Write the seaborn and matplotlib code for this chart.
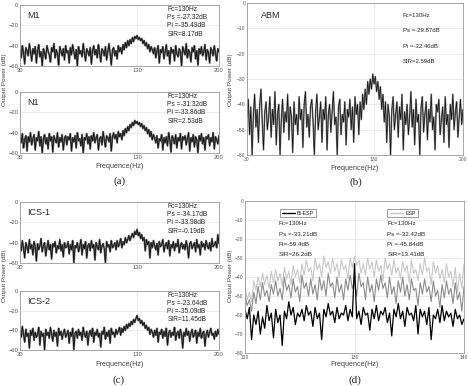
import numpy as np
import pandas as pd
import matplotlib
matplotlib.use('Agg')
import matplotlib.pyplot as plt
import seaborn as sns

sns.set_style('white')
plt.rcParams['font.family'] = ['Liberation Sans', 'DejaVu Sans']

# frequency axes (Hz)
freq_wide = np.arange(30, 201)          # panels a, b, c
freq_zoom = np.linspace(120, 140, 101)  # panel d

# spectra (dB)
m1 = [-44,-52,-40,-47,-58,-42,-45,-50,-38,-46,-55,-43,-48,-41,-57,-45,-39,-51,-46,-60,
      -43,-47,-53,-40,-45,-49,-56,-42,-46,-38,-52,-44,-48,-59,-41,-45,-50,-43,-54,-40,
      -47,-45,-57,-42,-49,-39,-46,-53,-44,-60,-41,-48,-45,-51,-38,-47,-55,-43,-46,-50,
      -42,-58,-45,-40,-49,-44,-52,-39,-47,-56,-43,-45,-50,-41,-54,-46,-38,-48,-59,-44,
      -42,-50,-45,-53,-40,-46,-42,-48,-39,-44,-37,-42,-35,-40,-34,-38,-32,-36,-31,-33,
      -30,-34,-32,-35,-33,-38,-35,-40,-37,-43,-39,-46,-41,-44,-48,-42,-52,-45,-40,-57,
      -44,-47,-41,-53,-46,-39,-50,-45,-58,-42,-47,-44,-55,-40,-48,-51,-43,-46,-60,-41,
      -45,-49,-38,-52,-44,-47,-56,-42,-46,-40,-53,-45,-59,-43,-48,-41,-50,-46,-39,-54,
      -44,-47,-57,-42,-45,-50,-40,-48,-55,-43,-46]
n1 = [-45,-50,-41,-55,-47,-43,-58,-44,-49,-40,-52,-46,-42,-57,-45,-48,-39,-53,-44,-60,
      -46,-42,-51,-45,-56,-41,-48,-44,-59,-43,-47,-50,-40,-54,-45,-49,-42,-57,-46,-43,
      -52,-44,-47,-41,-58,-45,-49,-43,-55,-40,-48,-46,-53,-42,-60,-45,-47,-41,-51,-44,
      -56,-43,-48,-40,-50,-45,-42,-57,-46,-44,-52,-39,-47,-54,-43,-45,-49,-41,-58,-44,
      -40,-46,-42,-50,-39,-44,-41,-47,-38,-43,-36,-40,-34,-38,-32,-35,-30,-33,-28,-31,
      -29,-32,-30,-34,-31,-36,-33,-38,-35,-41,-37,-44,-39,-47,-42,-45,-50,-43,-55,-46,
      -48,-42,-57,-45,-50,-44,-53,-40,-47,-59,-43,-46,-51,-42,-55,-45,-48,-41,-56,-44,
      -47,-43,-52,-46,-40,-58,-45,-49,-42,-54,-44,-47,-60,-43,-48,-41,-51,-45,-57,-44,
      -46,-42,-53,-45,-49,-40,-56,-44,-47,-51,-43]
abm = [-45,-38,-52,-41,-60,-44,-36,-49,-42,-55,-40,-34,-47,-58,-43,-39,-50,-45,-37,-53,
       -42,-48,-35,-56,-44,-40,-60,-46,-38,-51,-43,-47,-36,-54,-41,-45,-59,-39,-48,-44,
       -52,-37,-46,-42,-57,-40,-35,-49,-44,-53,-41,-38,-47,-60,-43,-36,-50,-45,-39,-55,
       -42,-46,-37,-58,-44,-40,-51,-43,-35,-48,-45,-60,-41,-38,-52,-44,-47,-39,-56,-42,
       -45,-38,-50,-41,-55,-37,-44,-40,-52,-39,-46,-36,-42,-34,-40,-31,-36,-30,-34,-28,
       -32,-29,-35,-31,-38,-33,-42,-36,-47,-39,-55,-40,-45,-60,-42,-37,-50,-44,-39,-53,
       -41,-46,-36,-58,-43,-48,-40,-52,-45,-35,-49,-42,-56,-38,-47,-44,-60,-41,-37,-51,
       -44,-39,-54,-42,-47,-36,-50,-45,-58,-40,-43,-38,-52,-46,-41,-55,-37,-48,-44,-57,
       -40,-46,-36,-50,-43,-39,-53,-45,-38,-48,-42]
ics1 = [-42,-48,-38,-45,-55,-40,-44,-50,-37,-46,-42,-52,-39,-44,-58,-41,-47,-43,-36,-49,
        -43,-40,-53,-45,-38,-47,-42,-56,-41,-44,-39,-50,-43,-46,-37,-48,-42,-54,-40,-45,
        -44,-39,-51,-42,-47,-38,-60,-43,-45,-40,-49,-44,-37,-52,-42,-46,-39,-55,-43,-41,
        -48,-38,-45,-42,-57,-40,-44,-47,-37,-50,-43,-41,-46,-60,-39,-44,-42,-49,-38,-45,
        -43,-40,-47,-38,-44,-41,-36,-45,-39,-42,-35,-40,-37,-33,-38,-34,-31,-35,-29,-32,
        -27,-33,-30,-36,-32,-38,-35,-48,-37,-42,-39,-55,-40,-45,-38,-43,-47,-41,-52,-39,
        -44,-42,-37,-49,-43,-40,-46,-38,-53,-42,-45,-39,-48,-41,-44,-37,-50,-43,-40,-46,
        -42,-47,-38,-44,-55,-41,-39,-46,-43,-40,-49,-37,-45,-42,-52,-39,-44,-41,-47,-38,
        -43,-46,-40,-48,-36,-44,-42,-39,-45,-32,-41]
ics2 = [-41,-47,-36,-44,-52,-39,-46,-43,-58,-40,-45,-38,-50,-42,-47,-44,-37,-55,-41,-46,
        -43,-60,-39,-45,-42,-48,-37,-44,-51,-40,-46,-42,-56,-38,-45,-41,-49,-43,-39,-47,
        -44,-40,-53,-42,-46,-38,-60,-43,-41,-48,-39,-45,-42,-50,-37,-44,-47,-41,-55,-43,
        -40,-46,-38,-52,-42,-45,-39,-47,-43,-57,-41,-44,-37,-49,-42,-46,-40,-53,-38,-44,
        -42,-47,-39,-44,-41,-37,-45,-38,-42,-36,-40,-34,-38,-33,-36,-31,-34,-29,-32,-28,
        -25,-30,-28,-33,-30,-35,-32,-38,-35,-40,-37,-44,-39,-42,-47,-40,-45,-38,-52,-42,
        -44,-39,-48,-41,-46,-38,-55,-43,-40,-47,-42,-45,-37,-50,-43,-41,-48,-39,-44,-58,
        -42,-46,-38,-45,-41,-51,-43,-39,-47,-44,-40,-53,-42,-46,-38,-48,-43,-41,-56,-44,
        -40,-47,-42,-38,-45,-43,-49,-41,-46,-39,-44]

esp = [-45,-52,-48,-53,-42,-47,-40,-45,-38,-44,
       -39,-46,-37,-43,-36,-42,-38,-45,-35,-41,
       -37,-44,-34,-40,-36,-43,-33,-39,-31,-37,
       -35,-42,-30,-36,-33,-40,-29,-35,-32,-38,
       -30,-37,-33,-40,-31,-36,-34,-41,-30,-35,
       -29,-34,-31,-38,-33,-39,-30,-36,-32,-40,
       -31,-37,-34,-42,-30,-36,-33,-39,-31,-38,
       -35,-41,-32,-37,-34,-43,-31,-38,-36,-42,
       -33,-39,-30,-37,-35,-44,-32,-38,-34,-41,
       -36,-43,-33,-40,-37,-45,-35,-48,-38,-46,
       -33]
mid = [-50,-55,-52,-58,-48,-54,-45,-52,-43,-50,
       -47,-53,-44,-49,-42,-50,-46,-52,-40,-47,
       -44,-51,-41,-48,-45,-53,-39,-46,-43,-50,
       -41,-49,-44,-52,-40,-47,-42,-50,-38,-45,
       -43,-51,-40,-48,-44,-52,-41,-47,-39,-46,
       -42,-50,-38,-45,-43,-52,-40,-48,-44,-53,
       -41,-47,-39,-46,-43,-51,-40,-49,-45,-54,
       -42,-48,-40,-50,-44,-52,-41,-47,-46,-55,
       -43,-49,-41,-48,-45,-53,-42,-50,-47,-56,
       -44,-51,-42,-49,-46,-54,-43,-52,-48,-58,
       -45]
bi_esp = [-57,-62,-56,-73,-60,-65,-58,-70,-61,-67,
          -55,-63,-59,-72,-57,-64,-60,-76,-58,-62,
          -53,-60,-56,-65,-59,-61,-57,-63,-55,-60,
          -58,-66,-56,-62,-59,-73,-57,-61,-54,-60,
          -58,-64,-56,-62,-59,-60,-55,-63,-57,-61,
          -33,-62,-58,-65,-56,-60,-59,-68,-57,-62,
          -55,-63,-58,-60,-56,-64,-59,-71,-57,-61,
          -54,-62,-58,-66,-56,-60,-59,-63,-55,-70,
          -57,-61,-58,-65,-56,-73,-60,-62,-57,-64,
          -55,-63,-58,-61,-59,-66,-57,-62,-60,-65,
          -62]

names_ac = ['M1', 'N1', 'ICS-1', 'ICS-2']
notes_ac = [['Fc=130Hz', 'Ps =-27.32dB', 'Pi =-35.49dB', 'SIR=8.17dB'],
            ['Fc=130Hz', 'Ps =-31.32dB', 'Pi =-33.86dB', 'SIR=2.53dB'],
            ['Fc=130Hz', 'Ps =-34.17dB', 'Pi =-33.98dB', 'SIR=-0.19dB'],
            ['Fc=130Hz', 'Ps =-23.64dB', 'Pi =-35.09dB', 'SIR=11.45dB']]
notes_b = ['Fc=130Hz', 'Ps =-29.87dB', 'Pi =-32.46dB', 'SIR=2.59dB']
notes_d_left = ['Fc=130Hz', 'Ps =-33.21dB', 'Pi=-59.4dB', 'SIR=26.2dB']
notes_d_right = ['Fc=130Hz', 'Ps =-32.42dB', 'Pi =-45.84dB', 'SIR=13.41dB']

W, H = 468, 386
fig = plt.figure(figsize=(W / 100, H / 100), dpi=100)


def box(l, t, r, b):
    return [l / W, 1 - b / H, (r - l) / W, (b - t) / H]


def style(ax, xticks, yticks, size=4.2):
    ax.set_xticks(xticks)
    ax.set_yticks(yticks)
    ax.tick_params(labelsize=size, colors='#555555', length=1.5, direction='in', pad=1.2)
    for s in ax.spines.values():
        s.set_color('#999999')
        s.set_linewidth(0.6)
    ax.grid(True, color='#e4e4e4', lw=0.5)
    ax.set_xlabel('')
    ax.set_ylabel('')


small_boxes = [box(20, 5, 219, 66), box(20, 92, 219, 153),
               box(20, 202, 219, 263), box(20, 291, 219, 350)]
series_ac = [m1, n1, ics1, ics2]
for bx, name, vals, notes in zip(small_boxes, names_ac, series_ac, notes_ac):
    ax = fig.add_axes(bx)
    df = pd.DataFrame({'f': freq_wide, 'p': vals})
    sns.lineplot(data=df, x='f', y='p', ax=ax, color='#6e6e6e', lw=1.4)
    sns.lineplot(data=df, x='f', y='p', ax=ax, color='#111111', lw=0.6)
    ax.set_xlim(30, 200)
    ax.set_ylim(-60, 0)
    style(ax, [30, 130, 200], [-60, -40, -20, 0])
    ax.text(0.035, 0.83, name, transform=ax.transAxes, fontsize=6.5, va='center')
    for ty, s in zip([0.93, 0.79, 0.66, 0.52], notes):
        ax.text(0.74, ty, s, transform=ax.transAxes, fontsize=4.8, va='center')

# panel b
axb = fig.add_axes(box(247, 3, 463, 155))
dfb = pd.DataFrame({'f': freq_wide, 'p': abm})
sns.lineplot(data=dfb, x='f', y='p', ax=axb, color='#8a8a8a', lw=1.2)
sns.lineplot(data=dfb, x='f', y='p', ax=axb, color='#111111', lw=0.5)
axb.set_xlim(30, 200)
axb.set_ylim(-60, 0)
style(axb, [30, 130, 200], list(range(-60, 1, 10)), size=3.6)
axb.text(0.065, 0.915, 'ABM', transform=axb.transAxes, fontsize=6.5, va='center')
for ty, s in zip([0.915, 0.82, 0.715, 0.615], notes_b):
    axb.text(0.72, ty, s, transform=axb.transAxes, fontsize=4.3, va='center')

# panel d
axd = fig.add_axes(box(245, 201, 464, 353))
dfd = pd.DataFrame({'f': freq_zoom, 'esp': esp, 'mid': mid, 'bi': bi_esp})
sns.lineplot(data=dfd, x='f', y='esp', ax=axd, color='#c8c8c8', lw=0.8)
sns.lineplot(data=dfd, x='f', y='mid', ax=axd, color='#8c8c8c', lw=0.8)
sns.lineplot(data=dfd, x='f', y='bi', ax=axd, color='#000000', lw=0.9)
axd.set_xlim(120, 140)
axd.set_ylim(-80, 0)
style(axd, [120, 130, 140], list(range(-80, 1, 10)), size=3.6)
for x0, x1, lbl, col in [(0.16, 0.325, 'BI-ESP', '#000000'), (0.65, 0.79, 'ESP', '#c8c8c8')]:
    axd.add_patch(plt.Rectangle((x0, 0.895), x1 - x0, 0.05, transform=axd.transAxes,
                                fill=False, ec='#777777', lw=0.5))
    axd.plot([x0 + 0.01, x0 + 0.07], [0.92, 0.92], transform=axd.transAxes,
             color=col, lw=1.0)
    axd.text(x1 - 0.01, 0.92, lbl, transform=axd.transAxes, fontsize=3.8,
             ha='right', va='center')
for colx, notes in [(0.155, notes_d_left), (0.65, notes_d_right)]:
    for ty, s in zip([0.85, 0.78, 0.715, 0.645], notes):
        axd.text(colx, ty, s, transform=axd.transAxes, fontsize=4.5, va='center')

# shared labels
for x, y in [(5, 80), (5, 276), (230.5, 80), (230.5, 276)]:
    fig.text(x / W, 1 - y / H, 'Output Power (dB)', rotation=90, fontsize=4.6,
             color='#444444', ha='center', va='center')
for x, y in [(120, 167), (355, 168), (120, 365), (355, 365)]:
    fig.text(x / W, 1 - y / H, 'Frequence(Hz)', fontsize=5.2, color='#444444',
             ha='center', va='center')
for x, y, c in [(120, 181, '(a)'), (356, 182, '(b)'), (119, 380, '(c)'), (355, 380, '(d)')]:
    fig.text(x / W, 1 - y / H, c, fontsize=8, family='Liberation Serif',
             ha='center', va='center')

fig.savefig('out.png', dpi=100)
